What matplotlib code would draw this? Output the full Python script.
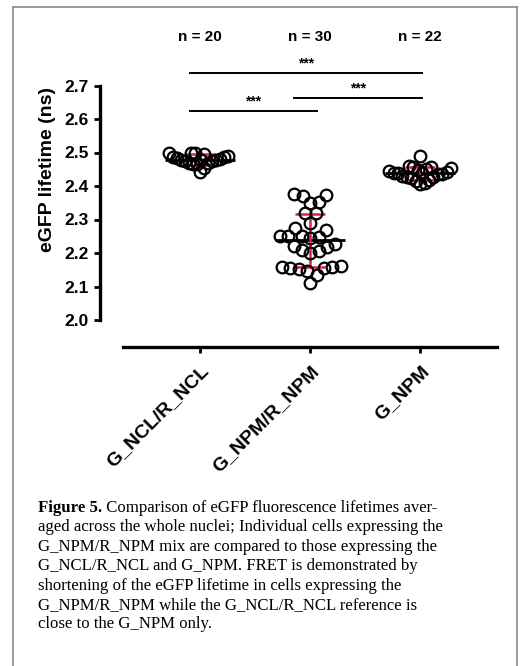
import numpy as np
import matplotlib
matplotlib.use("Agg")
import matplotlib.pyplot as plt
from matplotlib.lines import Line2D

# --- data ---
groups = ["G_NCL/R_NCL", "G_NPM/R_NPM", "G_NPM"]
n_labels = ["n = 20", "n = 30", "n = 22"]

g_ncl = [2.500, 2.498, 2.497, 2.500, 2.488, 2.490, 2.485, 2.487,
         2.478, 2.476, 2.480, 2.475, 2.477, 2.479,
         2.468, 2.466, 2.470, 2.465, 2.455, 2.442]
g_npm_r_npm = [2.375, 2.350, 2.370, 2.372, 2.352, 2.318, 2.320, 2.290,
               2.274, 2.268, 2.252, 2.250, 2.248, 2.245, 2.250,
               2.228, 2.218, 2.205, 2.200, 2.210, 2.222,
               2.157, 2.155, 2.152, 2.145, 2.155, 2.157, 2.160,
               2.134, 2.111]
g_npm = [2.490, 2.458, 2.460, 2.457, 2.455, 2.448, 2.445, 2.450,
         2.440, 2.438, 2.436, 2.440, 2.437, 2.442,
         2.428, 2.426, 2.430, 2.425, 2.418, 2.415, 2.408, 2.405]
values = [g_ncl, g_npm_r_npm, g_npm]

# significance brackets: (x start, x end, y level, label)
brackets = [(-0.09, 2.02, 2.737, "***"),
            (0.85, 2.02, 2.663, "***"),
            (-0.09, 1.06, 2.624, "***")]

caption_bold = "Figure 5."
caption_lines = [
    " Comparison of eGFP fluorescence lifetimes aver-",
    "aged across the whole nuclei; Individual cells expressing the",
    "G_NPM/R_NPM mix are compared to those expressing the",
    "G_NCL/R_NCL and G_NPM. FRET is demonstrated by",
    "shortening of the eGFP lifetime in cells expressing the",
    "G_NPM/R_NPM while the G_NCL/R_NCL reference is",
    "close to the G_NPM only.",
]

W, H, DPI = 520, 666, 100
XS, YS = 110.0, 335.0          # px per data unit
XLIM = (-0.91, 2.7)
YLIM = (2.0, 2.9)


def swarm(vals, d=12.0, limit=31.0):
    """simple beeswarm, returns x offsets in data units"""
    ys = np.asarray(vals) * YS
    order = np.argsort(ys)
    placed = []
    off = np.zeros(len(ys))
    for i in order:
        y = ys[i]
        cands = [0.0]
        for xj, yj in placed:
            dy = abs(y - yj)
            if dy < d:
                dx = np.sqrt(d * d - dy * dy)
                cands += [xj + dx, xj - dx]
        cands.sort(key=abs)
        for c in cands:
            if all((c - xj) ** 2 + (y - yj) ** 2 >= d * d - 1e-6 for xj, yj in placed):
                break
        placed.append((c, y))
        off[i] = c
    m = np.abs(off).max()
    if m > limit:
        off = off * limit / m
    return off / XS


plt.rcParams["font.family"] = ["Liberation Sans", "DejaVu Sans"]
plt.rcParams["font.weight"] = "bold"

fig = plt.figure(figsize=(W / DPI, H / DPI), dpi=DPI)
ax_w = (XLIM[1] - XLIM[0]) * XS / W
ax_h = (YLIM[1] - YLIM[0]) * YS / H
ax = fig.add_axes([100 / W, (H - 320) / H, ax_w, ax_h])
ax.set_xlim(*XLIM)
ax.set_ylim(*YLIM)

for i, v in enumerate(values):
    v = np.asarray(v)
    xo = swarm(v)
    ax.plot(i + xo, v, "o", ms=8.4, mfc="none", mec="black", mew=1.6, zorder=3)
    mu, sd = v.mean(), v.std(ddof=1)
    ax.hlines(mu, i - 0.32, i + 0.32, color="black", lw=2, zorder=2)
    ax.errorbar(i, mu, yerr=sd, fmt="none", ecolor="#dc1e4a", elinewidth=1.8,
                capsize=10.5, capthick=1.8, zorder=2)
    ax.text(i, 2.845, n_labels[i], ha="center", va="center", fontsize=11,
            fontweight="bold", clip_on=False)

for x0, x1, y, lab in brackets:
    ax.plot([x0, x1], [y, y], color="black", lw=1.4, clip_on=False)
    ax.text((x0 + x1) / 2, y + 0.008, lab, ha="center", va="bottom",
            fontsize=10, fontweight="bold", clip_on=False)

for s in ["top", "right"]:
    ax.spines[s].set_visible(False)
ax.spines["left"].set_bounds(2.0, 2.7)
ax.spines["left"].set_linewidth(2.4)
ax.spines["bottom"].set_bounds(-0.7, 2.7)
ax.spines["bottom"].set_linewidth(2.4)
ax.spines["bottom"].set_position(("outward", 19.5))

ax.set_yticks(np.arange(2.0, 2.71, 0.1))
ax.set_yticklabels([f"{t:.1f}" for t in np.arange(2.0, 2.71, 0.1)])
ax.set_xticks(range(len(groups)))
ax.set_xticklabels(groups, rotation=45, ha="right", va="top",
                   rotation_mode="anchor")
ax.tick_params(axis="both", direction="out", length=4, width=2)
ax.tick_params(axis="y", pad=4, labelsize=12.5)
ax.tick_params(axis="x", pad=7, labelsize=14)
ax.set_ylabel("eGFP lifetime (ns)", fontsize=14, fontweight="bold", labelpad=6)

# frame lines around the figure panel
fig.add_artist(Line2D([13 / W, 13 / W], [0, 1 - 7 / H], color="#8a8a8a", lw=1.2))
fig.add_artist(Line2D([517 / W, 517 / W], [0, 1 - 7 / H], color="#8a8a8a", lw=1.2))
fig.add_artist(Line2D([13 / W, 517 / W], [1 - 7 / H, 1 - 7 / H], color="#8a8a8a", lw=1.2))

# caption, size fitted so the first line spans nearly the width of the original
serif = ["Liberation Serif", "DejaVu Serif"]
x0, y0, pitch = 38 / W, 1 - 512 / H, 19.4 / H
fig.canvas.draw()
r = fig.canvas.get_renderer()
probe = fig.text(0, 0, caption_bold + caption_lines[0], family=serif, fontsize=10)
fs = 10 * 418 / probe.get_window_extent(r).width
probe.remove()

t = fig.text(x0, y0, caption_bold, family=serif, fontweight="bold", fontsize=fs,
             va="baseline", ha="left")
bb = t.get_window_extent(r)
fig.text(bb.x1 / W, y0, caption_lines[0], family=serif, fontweight="normal",
         fontsize=fs, va="baseline", ha="left")
for k, line in enumerate(caption_lines[1:], start=1):
    fig.text(x0, y0 - k * pitch, line, family=serif, fontweight="normal",
             fontsize=fs, va="baseline", ha="left")

fig.savefig("out.png", dpi=DPI)
